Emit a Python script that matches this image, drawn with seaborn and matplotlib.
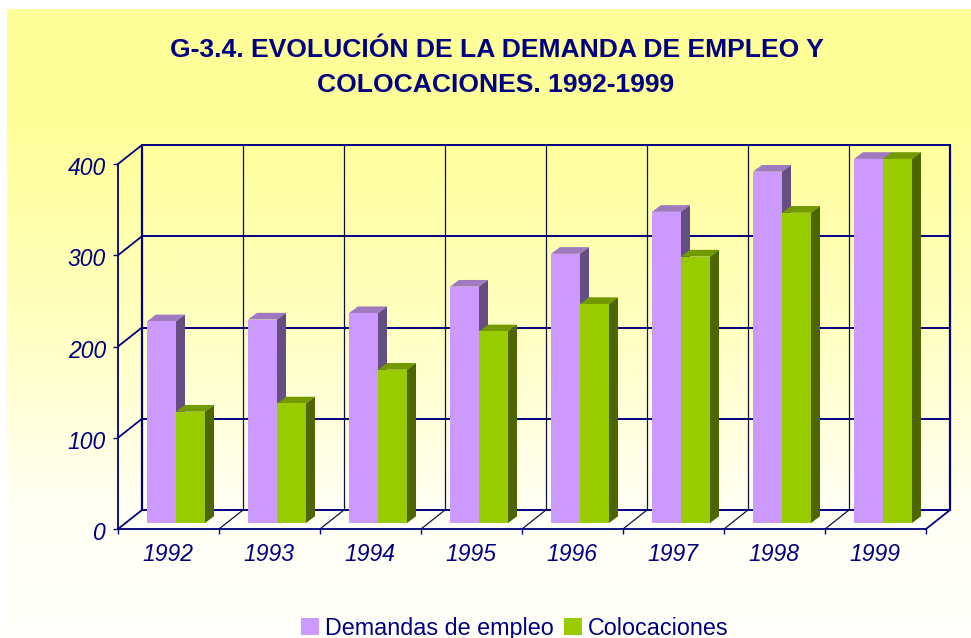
import numpy as np
import pandas as pd
import matplotlib
matplotlib.use("Agg")
import matplotlib.pyplot as plt
from matplotlib.patches import Polygon
from matplotlib.transforms import Affine2D
import seaborn as sns

# values
years = ["1992", "1993", "1994", "1995", "1996", "1997", "1998", "1999"]
demandas = [221, 223, 230, 259, 295, 341, 385, 399]
colocaciones = [122, 131, 168, 210, 240, 292, 340, 399]
series_names = ["Demandas de empleo", "Colocaciones"]
y_ticks = [0, 100, 200, 300, 400]

NAVY = "#000080"
FRONT = ["#CC99FF", "#99CC00"]
TOP = ["#9F7ABF", "#739900"]
SIDE = ["#664E82", "#4D6600"]

df = pd.DataFrame({
    "year": years * 2,
    "value": demandas + colocaciones,
    "serie": [series_names[0]] * len(years) + [series_names[1]] * len(years),
})

sns.set_theme(style="white")
plt.rcParams["font.family"] = ["Liberation Sans", "DejaVu Sans"]

W, H = 971, 638
fig = plt.figure(figsize=(W / 100, H / 100), dpi=100, facecolor="white")

# background gradient, yellow to almost white
bg = fig.add_axes([0, 0, 1, 1], zorder=-1)
rows = np.arange(9, H)
blue = np.interp(rows, [9, 120, 330, 510, 638], [0x99, 0x99, 0xC2, 0xF5, 0xFC]) / 255
grad = np.ones((len(rows), 1, 3))
grad[:, 0, 2] = blue
bg.imshow(grad, extent=[7, W, H, 9], aspect="auto")
bg.set_xlim(0, W)
bg.set_ylim(H, 0)
bg.axis("off")

# axes = front plane of the 3d box
ax = fig.add_axes([118 / W, (H - 529) / H, 808 / W, 365 / H])
ax.patch.set_alpha(0)

sns.barplot(data=df, x="year", y="value", hue="serie", palette=FRONT, width=58 / 101,
            gap=0, saturation=1, dodge=True, ax=ax, linewidth=0, zorder=3)
ax.set_xlim(-0.5, 7.5)
ax.set_ylim(0, 400)
ax.set_xlabel("")
ax.set_ylabel("")

PX = 1 / 101
PY = 400 / 365
DX, DY = 24 * PX, 19 * PY  # depth of the box

# back wall
x0, x1 = -0.5 + DX, 7.5 + DX
for v in y_ticks:
    ax.plot([x0, x1], [v + DY, v + DY], color=NAVY, lw=1.4, clip_on=False, zorder=1)
    ax.plot([-0.5, x0], [v, v + DY], color=NAVY, lw=1.3, clip_on=False, zorder=1)
for k in range(1, 8):
    ax.plot([k - 0.5 + DX] * 2, [DY, 400 + DY], color="#101040", lw=0.9, clip_on=False, zorder=1)
    ax.plot([k - 0.5, k - 0.5 + DX], [0, DY], color="#101040", lw=0.9, clip_on=False, zorder=1)
for xb in [x0, x1]:
    ax.plot([xb, xb], [DY, 400 + DY], color=NAVY, lw=1.6, clip_on=False, zorder=1)
ax.plot([7.5, x1], [0, DY], color=NAVY, lw=1.3, clip_on=False, zorder=1)

# shift bars into the box and add the top and side faces
shift_x, shift_y = 7.5 * PX, 6 * PY
dep_x, dep_y = 9 * PX, 6.7 * PY
n = len(years)
for i, bar in enumerate(ax.patches[:2 * n]):
    s = i // n
    x = bar.get_x() + shift_x
    w = bar.get_width()
    h = bar.get_height()
    bar.set_x(x)
    bar.set_y(shift_y)
    bar.set_clip_on(False)
    bar.set_zorder(3 + 2 * s)
    y = shift_y + h
    top = [(x, y), (x + w, y), (x + w + dep_x, y + dep_y), (x + dep_x, y + dep_y)]
    side = [(x + w, shift_y), (x + w + dep_x, shift_y + dep_y),
            (x + w + dep_x, y + dep_y), (x + w, y)]
    ax.add_patch(Polygon(top, closed=True, fc=TOP[s], ec="none", clip_on=False, zorder=2 + 2 * s))
    ax.add_patch(Polygon(side, closed=True, fc=SIDE[s], ec="none", clip_on=False, zorder=2 + 2 * s))

# axes and ticks
sns.despine(ax=ax, top=True, right=True)
for name in ["left", "bottom"]:
    ax.spines[name].set_color(NAVY)
    ax.spines[name].set_linewidth(1.3)
ax.set_yticks(y_ticks)
ax.set_xticks(np.arange(-0.5, 8, 1), minor=True)
ax.tick_params(axis="x", which="minor", length=3.6, width=1, color=NAVY, bottom=True)
ax.tick_params(axis="x", which="major", length=0, pad=10, labelsize=16.5, labelcolor=NAVY)
ax.tick_params(axis="y", length=3.6, width=1, color=NAVY, left=True, pad=5, labelsize=16.5, labelcolor=NAVY)
for lab in ax.get_xticklabels() + ax.get_yticklabels():
    lab.set_fontstyle("italic")
for lab in ax.get_yticklabels():
    lab.set_transform(lab.get_transform() + Affine2D().translate(0, -2))
for lab in ax.get_xticklabels():
    lab.set_transform(lab.get_transform() + Affine2D().translate(-1, 0))

# legend
sns.move_legend(ax, "lower center", bbox_to_anchor=(515 / W, -3 / H), bbox_transform=fig.transFigure,
                ncol=2, title=None, frameon=False, fontsize=16.8, labelcolor=NAVY,
                handlelength=0.77, handleheight=0.77, handletextpad=0.25, columnspacing=0.45,
                borderaxespad=0, borderpad=0.05)

# title
fig.text(496.5 / W, 1 - 50 / H, "G-3.4. EVOLUCIÓN DE LA DEMANDA DE EMPLEO Y", ha="center", va="center",
         fontsize=19.05, fontweight="bold", color=NAVY)
fig.text(496 / W, 1 - 85 / H, "COLOCACIONES. 1992-1999", ha="center", va="center",
         fontsize=19.05, fontweight="bold", color=NAVY)

fig.savefig("out.png", dpi=100)
